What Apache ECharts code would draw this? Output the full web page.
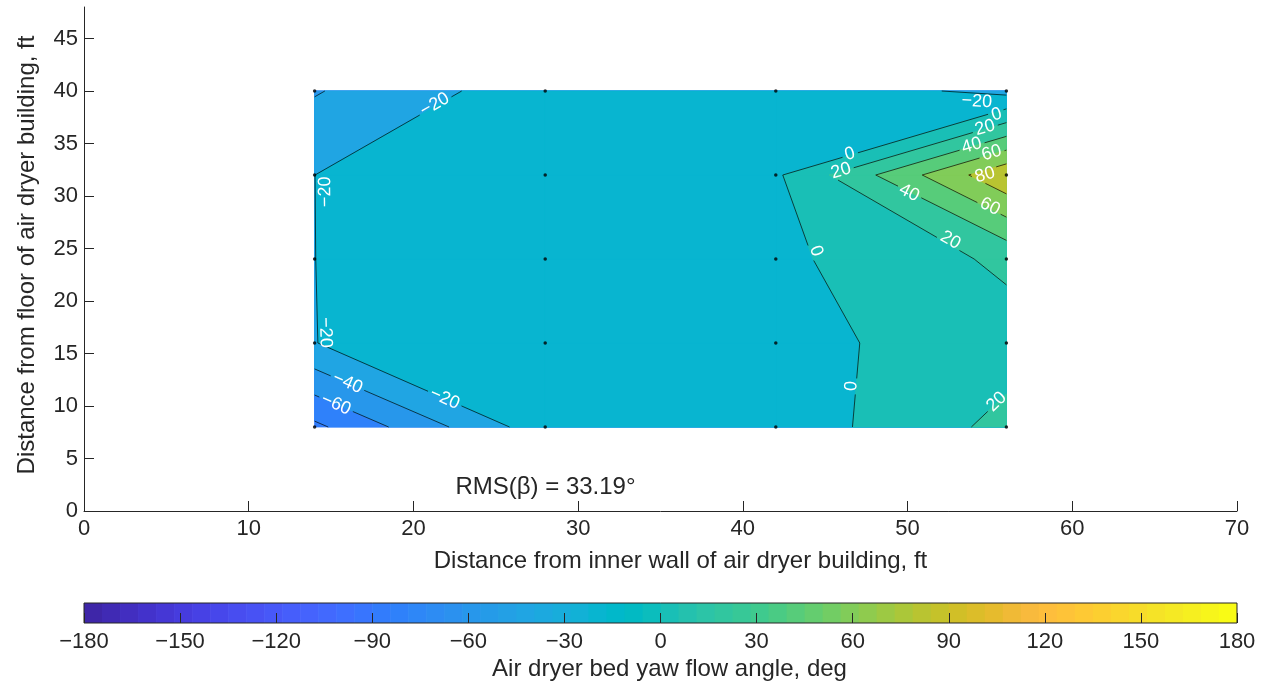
<!DOCTYPE html>
<html>
<head>
<meta charset="utf-8">
<script src="https://cdn.jsdelivr.net/npm/echarts@6/dist/echarts.min.js"></script>
<style>
  html, body { margin: 0; padding: 0; background: #ffffff; }
  #chart { width: 1270px; height: 686px; }
</style>
</head>
<body>
<div id="chart"></div>
<script>
// Probe stations (ft) and measured yaw flow angle (deg) at each station
const stationX = [14, 28, 42, 56];
const stationY = [8, 16, 24, 32, 40];
const yawRow8  = [-84.5, -8.2, -12.9, 25.9];
const yawRow16 = [-20.15, -9.6, -6.3, 11.0];
const yawRow24 = [-20.05, -9.8, -4.6, 24.0];
const yawRow32 = [-20.02, -9.2, -3.0, 96.2];
const yawRow40 = [-41.5, -7.8, -4.6, -26.0];
const contourLevels = [-80, -60, -40, -20, 0, 20, 40, 60, 80];
const xTickValues = [0, 10, 20, 30, 40, 50, 60, 70];
const yTickValues = [0, 5, 10, 15, 20, 25, 30, 35, 40, 45];
const barTickValues = [-180, -150, -120, -90, -60, -30, 0, 30, 60, 90, 120, 150, 180];
const rmsText = 'RMS(\u03B2) = 33.19\u00B0';

// 64-step parula colormap, colour limits -180..180 deg
const PARULA = [
  [0.2422,0.1504,0.6603],[0.2504,0.1650,0.7076],[0.2578,0.1818,0.7511],[0.2647,0.1978,0.7952],
  [0.2706,0.2147,0.8364],[0.2751,0.2342,0.8710],[0.2783,0.2559,0.8991],[0.2803,0.2782,0.9221],
  [0.2813,0.3006,0.9414],[0.2810,0.3228,0.9579],[0.2795,0.3447,0.9717],[0.2760,0.3667,0.9829],
  [0.2699,0.3892,0.9906],[0.2602,0.4123,0.9952],[0.2440,0.4358,0.9988],[0.2206,0.4603,0.9973],
  [0.1963,0.4847,0.9892],[0.1834,0.5074,0.9798],[0.1786,0.5289,0.9682],[0.1764,0.5499,0.9520],
  [0.1687,0.5703,0.9359],[0.1540,0.5902,0.9218],[0.1460,0.6091,0.9079],[0.1380,0.6276,0.8973],
  [0.1248,0.6459,0.8883],[0.1113,0.6635,0.8763],[0.0952,0.6798,0.8598],[0.0689,0.6948,0.8394],
  [0.0297,0.7082,0.8163],[0.0036,0.7203,0.7917],[0.0067,0.7312,0.7660],[0.0433,0.7411,0.7394],
  [0.0964,0.7500,0.7120],[0.1408,0.7584,0.6842],[0.1717,0.7670,0.6554],[0.1938,0.7758,0.6251],
  [0.2161,0.7843,0.5923],[0.2470,0.7918,0.5567],[0.2906,0.7973,0.5188],[0.3406,0.8008,0.4789],
  [0.3909,0.8029,0.4354],[0.4456,0.8024,0.3909],[0.5044,0.7993,0.3480],[0.5616,0.7942,0.3045],
  [0.6174,0.7876,0.2612],[0.6720,0.7793,0.2227],[0.7242,0.7698,0.1910],[0.7738,0.7598,0.1646],
  [0.8203,0.7498,0.1535],[0.8634,0.7406,0.1596],[0.9035,0.7330,0.1774],[0.9393,0.7288,0.2100],
  [0.9728,0.7298,0.2394],[0.9956,0.7434,0.2371],[0.9970,0.7659,0.2199],[0.9952,0.7893,0.2028],
  [0.9892,0.8136,0.1885],[0.9786,0.8386,0.1766],[0.9676,0.8639,0.1643],[0.9610,0.8890,0.1537],
  [0.9597,0.9135,0.1423],[0.9628,0.9373,0.1265],[0.9691,0.9606,0.1064],[0.9769,0.9839,0.0805]
];
const CLIM = [-180, 180];
function rgbOf(c) { return 'rgb(' + c.map(x => Math.round(x * 255)).join(',') + ')'; }
function parulaColor(v) {
  const m = PARULA.length;
  let k = Math.floor((v - CLIM[0]) / (CLIM[1] - CLIM[0]) * m);
  k = Math.max(0, Math.min(m - 1, k));
  return rgbOf(PARULA[k]);
}
const minus = v => String(v).replace('-', '\u2212');

const FONT = '"Liberation Sans", Arial, Helvetica, sans-serif';
const INK = '#262626';

// ---- grid cells -------------------------------------------------------
const yaw = [yawRow8, yawRow16, yawRow24, yawRow32, yawRow40];
const cells = [];
for (let j = 0; j < stationY.length - 1; j++) {
  for (let i = 0; i < stationX.length - 1; i++) {
    cells.push([
      { x: stationX[i],     y: stationY[j],     v: yaw[j][i] },
      { x: stationX[i + 1], y: stationY[j],     v: yaw[j][i + 1] },
      { x: stationX[i + 1], y: stationY[j + 1], v: yaw[j + 1][i + 1] },
      { x: stationX[i],     y: stationY[j + 1], v: yaw[j + 1][i] }
    ]);
  }
}

// keep the part of a cell polygon where the interpolated value >= L
function clipAbove(poly, L) {
  const out = [];
  for (let k = 0; k < poly.length; k++) {
    const a = poly[k], b = poly[(k + 1) % poly.length];
    const ina = a.v >= L, inb = b.v >= L;
    if (ina) out.push(a);
    if (ina !== inb) {
      const t = (L - a.v) / (b.v - a.v);
      out.push({ x: a.x + t * (b.x - a.x), y: a.y + t * (b.y - a.y), v: L });
    }
  }
  return out;
}

// filled bands, painted from the lowest floor upwards
const zMin = Math.min(...yaw.flat());
const bandFloors = [zMin].concat(contourLevels.filter(L => L > zMin));
const patches = [];
bandFloors.forEach((floor, b) => {
  cells.forEach(cell => {
    const poly = b === 0 ? cell : clipAbove(cell, floor);
    if (poly.length >= 3) patches.push({ pts: poly.map(p => [p.x, p.y]), color: parulaColor(floor) });
  });
});

// iso-line segments (marching squares with linear edge interpolation)
const segments = [];
contourLevels.forEach(L => {
  cells.forEach(cell => {
    const hits = [];
    for (let k = 0; k < 4; k++) {
      const a = cell[k], b = cell[(k + 1) % 4];
      if ((a.v >= L) !== (b.v >= L)) {
        const t = (L - a.v) / (b.v - a.v);
        hits.push([a.x + t * (b.x - a.x), a.y + t * (b.y - a.y)]);
      }
    }
    if (hits.length === 2) segments.push({ level: L, a: hits[0], b: hits[1] });
    else if (hits.length === 4) {
      if (cell[0].v >= L) {
        segments.push({ level: L, a: hits[0], b: hits[1] });
        segments.push({ level: L, a: hits[2], b: hits[3] });
      } else {
        segments.push({ level: L, a: hits[1], b: hits[2] });
        segments.push({ level: L, a: hits[3], b: hits[0] });
      }
    }
  });
});

// where the in-line level labels sit; each takes the slope of its nearest iso-line
const contourLabelSpots = [
  { level: -20, x: 21.3, y: 38.7 },
  { level: -20, x: 14.65, y: 30.4, flip: true, keepLine: true },
  { level: -20, x: 14.65, y: 17.0, keepLine: true },
  { level: -40, x: 16.0, y: 12.2 },
  { level: -60, x: 15.3, y: 10.15 },
  { level: -20, x: 21.9, y: 10.7 },
  { level: 0, x: 44.45, y: 24.75 },
  { level: 0, x: 46.6, y: 11.9 },
  { level: 20, x: 55.4, y: 10.4 },
  { level: 0, x: 46.5, y: 34.0 },
  { level: 20, x: 45.96, y: 32.4 },
  { level: 40, x: 50.1, y: 30.3 },
  { level: 20, x: 52.6, y: 25.8 },
  { level: 80, x: 54.7, y: 32.0 },
  { level: 60, x: 55.0, y: 29.0 },
  { level: -20, x: 54.2, y: 39.0 },
  { level: 0, x: 55.4, y: 37.75 },
  { level: 20, x: 54.7, y: 36.5 },
  { level: 40, x: 53.9, y: 34.8 },
  { level: 60, x: 55.1, y: 34.1 }
];
const LABEL_FONT_SIZE = 18;
const LABEL_FONT = LABEL_FONT_SIZE + 'px ' + FONT;

const measureCtx = document.createElement('canvas').getContext('2d');
function textWidth(str, font) { measureCtx.font = font; return measureCtx.measureText(str).width; }

function nearestOnSeg(p, a, b) {
  const dx = b[0] - a[0], dy = b[1] - a[1];
  const len2 = dx * dx + dy * dy || 1e-9;
  let t = ((p[0] - a[0]) * dx + (p[1] - a[1]) * dy) / len2;
  t = Math.max(0, Math.min(1, t));
  const q = [a[0] + t * dx, a[1] + t * dy];
  return { q, d: Math.hypot(q[0] - p[0], q[1] - p[1]) };
}

// parametric part of segment a-b that falls inside a rotated label box
function boxInterval(a, b, lb) {
  const c = Math.cos(lb.ang), s = Math.sin(lb.ang);
  const loc = p => { const dx = p[0] - lb.x, dy = p[1] - lb.y; return [dx * c - dy * s, dx * s + dy * c]; };
  const A = loc(a), B = loc(b);
  const d = [B[0] - A[0], B[1] - A[1]];
  let t0 = 0, t1 = 1;
  const checks = [[-d[0], A[0] + lb.hw], [d[0], lb.hw - A[0]], [-d[1], A[1] + lb.hh], [d[1], lb.hh - A[1]]];
  for (const [p, q] of checks) {
    if (Math.abs(p) < 1e-12) { if (q < 0) return null; }
    else {
      const r = q / p;
      if (p < 0) { if (r > t1) return null; if (r > t0) t0 = r; }
      else { if (r < t0) return null; if (r < t1) t1 = r; }
    }
  }
  return t0 < t1 ? [t0, t1] : null;
}
function subtractInterval(pieces, cut) {
  const out = [];
  pieces.forEach(([p0, p1]) => {
    if (cut[1] <= p0 || cut[0] >= p1) { out.push([p0, p1]); return; }
    if (cut[0] > p0) out.push([p0, cut[0]]);
    if (cut[1] < p1) out.push([cut[1], p1]);
  });
  return out;
}

function renderPatch(params, api) {
  const patch = patches[params.dataIndex];
  const pts = patch.pts.map(p => api.coord(p));
  return {
    type: 'polygon',
    shape: { points: pts },
    style: { fill: patch.color, stroke: patch.color, lineWidth: 0.8 }
  };
}

function renderContours(params, api) {
  const children = [];
  const segPx = segments.map(s => ({ level: s.level, a: api.coord(s.a), b: api.coord(s.b) }));
  const labels = contourLabelSpots.map(spot => {
    const p = api.coord([spot.x, spot.y]);
    let best = null;
    segPx.forEach(s => {
      if (s.level !== spot.level) return;
      const r = nearestOnSeg(p, s.a, s.b);
      if (!best || r.d < best.d) best = { d: r.d, q: r.q, s };
    });
    let ang = Math.atan2(-(best.s.b[1] - best.s.a[1]), best.s.b[0] - best.s.a[0]);
    if (ang > Math.PI / 2) ang -= Math.PI;
    if (ang <= -Math.PI / 2) ang += Math.PI;
    if (spot.flip) ang += ang > 0 ? -Math.PI : Math.PI;
    const text = minus(spot.level);
    return {
      level: spot.level, x: p[0], y: p[1], ang, text, keepLine: !!spot.keepLine,
      hw: textWidth(text, LABEL_FONT) / 2 + 3, hh: LABEL_FONT_SIZE * 0.45
    };
  });
  segPx.forEach(s => {
    let pieces = [[0, 1]];
    labels.forEach(lb => {
      if (lb.level !== s.level || lb.keepLine) return;
      const cut = boxInterval(s.a, s.b, lb);
      if (cut) pieces = subtractInterval(pieces, cut);
    });
    pieces.forEach(([t0, t1]) => {
      if (t1 - t0 < 1e-6) return;
      children.push({
        type: 'line',
        shape: {
          x1: s.a[0] + t0 * (s.b[0] - s.a[0]), y1: s.a[1] + t0 * (s.b[1] - s.a[1]),
          x2: s.a[0] + t1 * (s.b[0] - s.a[0]), y2: s.a[1] + t1 * (s.b[1] - s.a[1])
        },
        style: { stroke: 'rgba(0,0,0,0.85)', lineWidth: 0.8 }
      });
    });
  });
  labels.forEach(lb => {
    children.push({
      type: 'text', x: lb.x, y: lb.y, rotation: lb.ang,
      style: { text: lb.text, font: LABEL_FONT, fill: '#ffffff', align: 'center', verticalAlign: 'middle' }
    });
  });
  return { type: 'group', children };
}

function renderRms(params, api) {
  const p = api.coord([api.value(0), api.value(1)]);
  return {
    type: 'text', x: p[0], y: p[1],
    style: { text: rmsText, font: '24px ' + FONT, fill: INK, align: 'left', verticalAlign: 'middle' }
  };
}

const BAR_STEP = (CLIM[1] - CLIM[0]) / PARULA.length;
function renderBarCell(params, api) {
  const i = params.dataIndex;
  const x0 = CLIM[0] + i * BAR_STEP, x1 = x0 + BAR_STEP;
  const p0 = api.coord([x0, 1]), p1 = api.coord([x1, 0]);
  return {
    type: 'rect',
    shape: { x: p0[0], y: p0[1], width: p1[0] - p0[0] + (i < PARULA.length - 1 ? 0.6 : 0), height: p1[1] - p0[1] },
    style: { fill: rgbOf(PARULA[i]) }
  };
}
function renderBarFrame(params, api) {
  const p0 = api.coord([CLIM[0], 1]), p1 = api.coord([CLIM[1], 0]);
  return {
    type: 'rect',
    shape: { x: p0[0], y: p0[1], width: p1[0] - p0[0], height: p1[1] - p0[1] },
    style: { fill: null, stroke: INK, lineWidth: 1 }
  };
}

const stationPoints = [];
stationY.forEach(y => stationX.forEach(x => stationPoints.push([x, y])));

const chart = echarts.init(document.getElementById('chart'), null, { renderer: 'canvas' });
chart.setOption({
  animation: false,
  backgroundColor: '#ffffff',
  textStyle: { fontFamily: FONT, color: INK },
  grid: [
    { left: 84, right: 33, top: 7, bottom: 175 },
    { left: 84, right: 33, top: 603, height: 20 }
  ],
  xAxis: [
    {
      gridIndex: 0, type: 'value', min: 0, max: 70, interval: 10,
      axisLine: { show: true, lineStyle: { color: INK, width: 1 } },
      axisTick: { show: true, inside: true, length: 10, lineStyle: { color: INK, width: 1 }, customValues: xTickValues },
      axisLabel: { fontSize: 22, color: INK, margin: 7, customValues: xTickValues, formatter: v => minus(v) },
      splitLine: { show: false },
      name: 'Distance from inner wall of air dryer building, ft',
      nameLocation: 'middle', nameGap: 38,
      nameTextStyle: { fontSize: 24, color: INK, padding: [0, 0, 0, 40] }
    },
    {
      gridIndex: 1, type: 'value', min: CLIM[0], max: CLIM[1], interval: 30, z: 10,
      axisLine: { show: false },
      axisTick: { show: true, inside: true, length: 10, lineStyle: { color: INK, width: 1 }, customValues: barTickValues },
      axisLabel: { fontSize: 22, color: INK, margin: 8, customValues: barTickValues, formatter: v => minus(v) },
      splitLine: { show: false },
      name: 'Air dryer bed yaw flow angle, deg',
      nameLocation: 'middle', nameGap: 34,
      nameTextStyle: { fontSize: 24, color: INK, padding: [0, 0, 0, 18] }
    }
  ],
  yAxis: [
    {
      gridIndex: 0, type: 'value', min: 0, max: 48, interval: 5,
      axisLine: { show: true, lineStyle: { color: INK, width: 1 } },
      axisTick: { show: true, inside: true, length: 10, lineStyle: { color: INK, width: 1 }, customValues: yTickValues },
      axisLabel: { fontSize: 22, color: INK, margin: 6, customValues: yTickValues, formatter: v => minus(v) },
      splitLine: { show: false },
      name: 'Distance from floor of air dryer building, ft',
      nameLocation: 'middle', nameGap: 45,
      nameTextStyle: { fontSize: 24, color: INK, padding: [0, 0, 0, 8] }
    },
    { gridIndex: 1, type: 'value', min: 0, max: 1, show: false }
  ],
  series: [
    {
      type: 'custom', name: 'bands', xAxisIndex: 0, yAxisIndex: 0, z: 1,
      renderItem: renderPatch,
      data: patches.map(p => [p.pts[0][0], p.pts[0][1]]),
      silent: true
    },
    {
      type: 'custom', name: 'isolines', xAxisIndex: 0, yAxisIndex: 0, z: 2,
      renderItem: renderContours,
      data: [[stationX[0], stationY[0]]],
      silent: true
    },
    {
      type: 'scatter', name: 'stations', xAxisIndex: 0, yAxisIndex: 0, z: 3,
      symbol: 'circle', symbolSize: 3.5,
      itemStyle: { color: '#000000' },
      data: stationPoints, silent: true
    },
    {
      type: 'custom', name: 'rms', xAxisIndex: 0, yAxisIndex: 0, z: 3,
      renderItem: renderRms,
      data: [[22.55, 2.25]], silent: true
    },
    {
      type: 'custom', name: 'colorbar', xAxisIndex: 1, yAxisIndex: 1, z: 1,
      renderItem: renderBarCell,
      data: PARULA.map((c, i) => [CLIM[0] + (i + 0.5) * BAR_STEP, 0.5]),
      silent: true
    },
    {
      type: 'custom', name: 'colorbarFrame', xAxisIndex: 1, yAxisIndex: 1, z: 3,
      renderItem: renderBarFrame,
      data: [[0, 0.5]], silent: true
    }
  ]
});
</script>
</body>
</html>
